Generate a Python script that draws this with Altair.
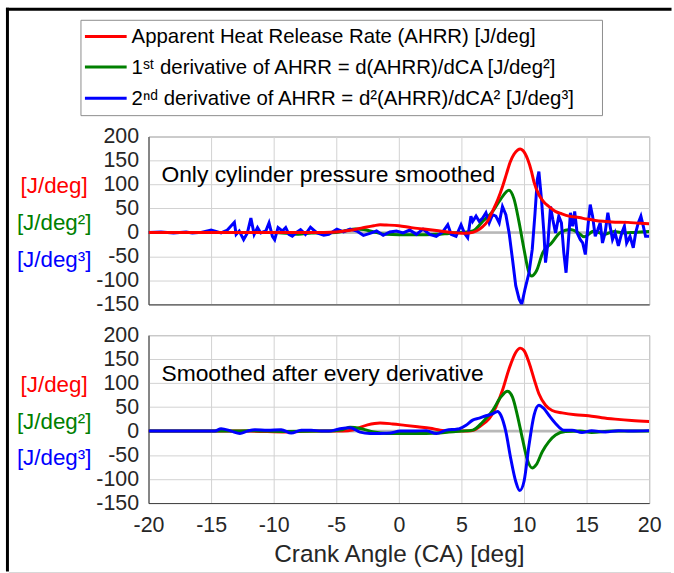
import altair as alt
import pandas as pd

# ---------------- data ----------------
# Panel 1: only cylinder pressure smoothed
top_red_x = [-20, -15, -10, -6, -5, -4, -3, -2, -1.5, -1, 0, 1, 2, 3, 4, 5, 5.6, 6.2, 6.7, 7.1, 7.5, 7.9,
             8.3, 8.6, 8.9, 9.2, 9.5, 9.7, 9.9, 10.3, 10.6, 10.8, 11.2, 11.6, 12.0, 12.5, 13.0, 13.6, 14.4,
             15.0, 15.7, 16.5, 17.0, 18.3, 19.3, 20]
top_red_v = [0, 0, 0, 0, 1, 4, 9, 14, 16, 15.5, 14, 10, 7, 4, 0.5, -1.5, -1, 3, 12, 24, 45, 68,
             97, 122, 147, 163, 172, 174, 171, 152, 127, 105, 78, 63, 54, 44, 39, 34, 31,
             28, 25, 23, 22, 21, 19, 18]

top_green_x = [-20, -10, -8.5, -8, -7, -5, -4.2, -3.5, -2.8, -2, -1, 0, 1, 2, 3, 4, 5, 5.9, 6.7, 7.5,
               8.1, 8.8, 9.2, 9.6, 10.0, 10.4, 10.6, 11.0, 11.5, 12.2, 12.9, 13.7, 14.3, 14.8, 15.6,
               16.4, 17.2, 18.0, 18.8, 20]
top_green_v = [0, 0, -3, -4, -1, 0, 4, 7, 6, 1, -4, -5, -5, -5, -4, -2, 0, 3, 23, 44,
               68, 88, 70, 22, -35, -84, -91, -80, -42, -22, 0, 6, 0, -9, 3,
               -4, 2, -1, 0, 2]

top_blue_x = [-20, -19, -18, -17, -16.5, -16, -15.79, -15.0, -14.2, -13.7, -13.14, -13.0, -12.75, -12.4,
              -12.1, -11.82, -11.56, -11.29, -11.03, -10.63, -10.37, -10.1, -9.92, -9.65, -9.31, -9.04,
              -8.78, -8.51, -8.12, -7.85, -7.46, -7.06, -6.8, -6.53, -6.0, -5.6, -4.95, -4.42, -3.89,
              -3.36, -2.83, -2.31, -1.78, -1.25, -0.72, -0.19, 0.34, 0.87, 1.4, 1.93, 2.46, 2.99, 3.51,
              3.91, 4.18, 4.57, 4.97, 5.23, 5.5, 5.76, 5.9, 6.17, 6.43, 6.7, 6.96, 7.22, 7.49, 7.75,
              8.02, 8.28, 8.55, 8.81, 9.08, 9.34, 9.61, 9.82, 10.08, 10.4, 10.66, 10.88, 11.06, 11.19,
              11.4, 11.59, 11.72, 11.91, 12.12, 12.3, 12.52, 12.78, 12.99, 13.18, 13.36, 13.52, 13.71,
              13.89, 14.05, 14.24, 14.5, 14.69, 14.9, 15.11, 15.29, 15.48, 15.69, 15.9, 16.09, 16.27,
              16.48, 16.7, 16.88, 17.07, 17.28, 17.54, 17.81, 18.02, 18.2, 18.47, 18.73, 18.92, 19.13,
              19.34, 19.53, 19.71, 20]
top_blue_v = [0, 1, -1, 1, -1, 0, 0, 5, -1, 5, 21, -4, 3, -15,
              -1, 30, -4, 10, -1, 3, 20, -8, -15, 10, 3, 10,
              -4, -8, 1, 6, -4, 11, 5, -1, -6, -4, 7, 1, 7,
              3, -6, -2, 3, -6, 1, 3, -1, 5, -4, 7, -4, -8, 1,
              16, -4, -8, 16, -1, -11, 34, 23, 34, 23, 30, 41, 20, 37, 34,
              20, 54, 37, -1, -56, -111, -139, -150, -118, -84, -35, 40, 110, 127,
              68, -1, -63, -22, 54, 27, -1, 34, 20, -42, -84, -28, 41,
              13, 44, -1, -15, -22, -46, 13, 58, 34, -8, 6, 20, -22,
              -1, 41, 13, -15, -1, -28, -1, 13, -22, -8, -32, -1, 20,
              34, 13, -8, -8]

# Panel 2: smoothed after every derivative
bot_red_x = [-20, -12, -9, -7, -4.5, -3.6, -2.5, -1.5, -0.5, 0.5, 1.5, 2.5, 3.3, 4.2, 5.5, 6.0, 6.43,
             6.9, 7.22, 7.75, 8.28, 8.81, 9.34, 9.7, 10.0, 10.4, 10.8, 11.19, 11.72, 12.25, 13.05, 14.1,
             15.16, 16.22, 17.28, 18.6, 20]
bot_red_v = [0, 0, -2, 0, 0, 3, 13, 17, 15, 12, 9, 6, 2, 0, 0, 2, 9,
             18, 26, 50, 85, 130, 164, 173, 168, 143, 109, 78, 54, 43, 38, 34,
             32, 28, 25, 22, 20]

bot_green_x = [-20, -14, -12, -9, -6, -4.5, -3.9, -3, -2, -1, 0, 1, 2, 3, 4, 5, 5.9, 6.7, 7.49, 8.15,
               8.68, 9.08, 9.47, 9.87, 10.27, 10.66, 10.98, 11.46, 11.99, 12.52, 13.31, 14.5, 15.4, 17, 20]
bot_green_v = [0, 0, 1, -1, 0, 3, 8, 5, -2, -5, -5, -5, -5, -4, -2, 0, 2, 19, 43, 71,
               83, 71, 33, -15, -60, -77, -70, -43, -22, -8, -1, 0, -3, 0, 0]

bot_blue_x = [-20, -16, -14.7, -14.2, -13.4, -12.7, -12.1, -11.5, -10.5, -9.4, -8.6, -7.8, -7.0, -6.2,
              -5.6, -4.7, -3.9, -3.1, -2.3, -1.5, -0.7, 0.1, 1.2, 2.2, 3.0, 3.8, 4.6, 4.84, 5.37, 5.9,
              6.43, 6.96, 7.49, 7.89, 8.15, 8.55, 8.94, 9.34, 9.66, 10.0, 10.4, 10.8, 11.19, 11.59,
              11.99, 12.52, 13.18, 13.84, 14.63, 15.4, 16.48, 17.54, 18.5, 20]
bot_blue_v = [0, 0, 0, 5, 0, -5, 0, 3, 2, 3, -4, 2, 2, 0,
              0, 5, 7, -2, -5, -5, -4, 0, 0, 1, -5, 2, 4, 5, 12, 23,
              27, 32, 36, 41, 33, -1, -57, -105, -124, -105, -29, 33, 54, 47,
              33, 16, 2, 2, -3, 1, -2, 1, 0, 1]

x_ticks = [-20, -15, -10, -5, 0, 5, 10, 15, 20]
y_ticks = [-150, -100, -50, 0, 50, 100, 150, 200]

unit_labels = ["[J/deg]", "[J/deg\u00b2]", "[J/deg\u00b3]"]
legend_labels = [
    "Apparent Heat Release Rate (AHRR) [J/deg]",
    "1\u02e2\u1d57 derivative of AHRR = d(AHRR)/dCA [J/deg\u00b2]",
    "2\u207f\u1d48 derivative of AHRR = d\u00b2(AHRR)/dCA\u00b2 [J/deg\u00b3]",
]
panel_notes = ["Only cylinder pressure smoothed", "Smoothed after every derivative"]
x_title = "Crank Angle (CA) [deg]"

# ---------------- styling ----------------
RED, GREEN, BLUE = "#ff0000", "#008000", "#0000ff"
COLORS = [RED, GREEN, BLUE]
FONT = "Liberation Sans"
TXT = "#262626"
W, H = 504, 169
LABEL_EXPR = "'' + datum.value"   # plain hyphen minus, as in the reference

XS = alt.Scale(domain=[-20, 20], nice=False, zero=False)
YS = alt.Scale(domain=[-150, 200], nice=False, zero=False)

one = pd.DataFrame({"a": [0]})


def x_enc(show_labels):
    if show_labels:
        ax = alt.Axis(values=x_ticks, grid=True, ticks=False, tickSize=0, labelPadding=12,
                      labelExpr=LABEL_EXPR, title=x_title, titleFontSize=24.5, titlePadding=6,
                      labelFlush=False)
    else:
        ax = alt.Axis(values=x_ticks, grid=True, ticks=False, tickSize=0, labels=False, title=None)
    return alt.X("x:Q", scale=XS, axis=ax)


def y_enc():
    return alt.Y("v:Q", scale=YS,
                 axis=alt.Axis(values=y_ticks, grid=True, ticks=False, tickSize=0, labelPadding=10,
                               labelExpr=LABEL_EXPR, title=None, labelFlush=False))


def line(xs, vs, color, show_labels, interp):
    df = pd.DataFrame({"x": xs, "v": vs})
    return alt.Chart(df).mark_line(color=color, strokeWidth=3, interpolate=interp, clip=True).encode(
        x=x_enc(show_labels), y=y_enc())


def panel(series, note, show_labels, extra=()):
    zero = alt.Chart(pd.DataFrame({"v": [0]})).mark_rule(color="#b8b8b8", strokeWidth=2.5).encode(y=y_enc())
    layers = [zero]
    for xs, vs, c, interp in series:
        layers.append(line(xs, vs, c, show_labels, interp))
    note_t = alt.Chart(one).mark_text(text=note, font=FONT, fontSize=23, color="black",
                                      align="left", baseline="alphabetic").encode(
        x=alt.value(13), y=alt.value(46))
    layers.append(note_t)
    for i, (lab, col) in enumerate(zip(unit_labels, COLORS)):
        layers.append(alt.Chart(one).mark_text(text=lab, font=FONT, fontSize=22.5, color=col,
                                               align="center", baseline="alphabetic").encode(
            x=alt.value(-95), y=alt.value(57 + 37 * i)))
    layers.extend(extra)
    return alt.layer(*layers).properties(width=W, height=H)


# legend + frame (drawn in the top panel's coordinates, outside its plot area)
extra = []
extra.append(alt.Chart(one).mark_rule(color="black", strokeWidth=3).encode(
    x=alt.value(-142), y=alt.value(-129.5), y2=alt.value(438)))
extra.append(alt.Chart(one).mark_rule(color="black", strokeWidth=3).encode(
    x=alt.value(-143.5), x2=alt.value(526.5), y=alt.value(-128)))
extra.append(alt.Chart(one).mark_rule(color="#d4d4d4", strokeWidth=1).encode(
    x=alt.value(-140.5), x2=alt.value(526), y=alt.value(439)))
extra.append(alt.Chart(one).mark_rect(fill="white", stroke="#8c8c8c", strokeWidth=1).encode(
    x=alt.value(-68), x2=alt.value(457), y=alt.value(-117), y2=alt.value(-21)))
line_rows = [-100.7, -70.0, -38.5]
text_rows = [-93.7, -63.0, -31.5]
for i, (lab, col) in enumerate(zip(legend_labels, COLORS)):
    extra.append(alt.Chart(one).mark_rule(color=col, strokeWidth=3).encode(
        x=alt.value(-64), x2=alt.value(-22), y=alt.value(line_rows[i])))
    extra.append(alt.Chart(one).mark_text(text=lab, font=FONT, fontSize=20.5, color="black",
                                          align="left", baseline="alphabetic").encode(
        x=alt.value(-17), y=alt.value(text_rows[i])))

top = panel([(top_green_x, top_green_v, GREEN, "monotone"),
             (top_blue_x, top_blue_v, BLUE, "linear"),
             (top_red_x, top_red_v, RED, "monotone")],
            panel_notes[0], False, extra)
bottom = panel([(bot_red_x, bot_red_v, RED, "monotone"),
                (bot_green_x, bot_green_v, GREEN, "monotone"),
                (bot_blue_x, bot_blue_v, BLUE, "monotone")],
               panel_notes[1], True)

chart = alt.vconcat(top, bottom, spacing=31, bounds="flush").properties(
    padding={"left": 3.5, "top": 3.5, "right": 0, "bottom": 0},
    background="white",
).configure_view(stroke="#8a8a8a", strokeWidth=1).configure_axis(
    labelFont=FONT, labelFontSize=21.5, labelColor=TXT, titleFont=FONT, titleColor=TXT,
    titleFontWeight="normal", gridColor="#d2d2d2", gridWidth=1, domainColor="#404040", domainWidth=1,
)

chart.save("out.html", embed_options={"renderer": "svg", "actions": False})
